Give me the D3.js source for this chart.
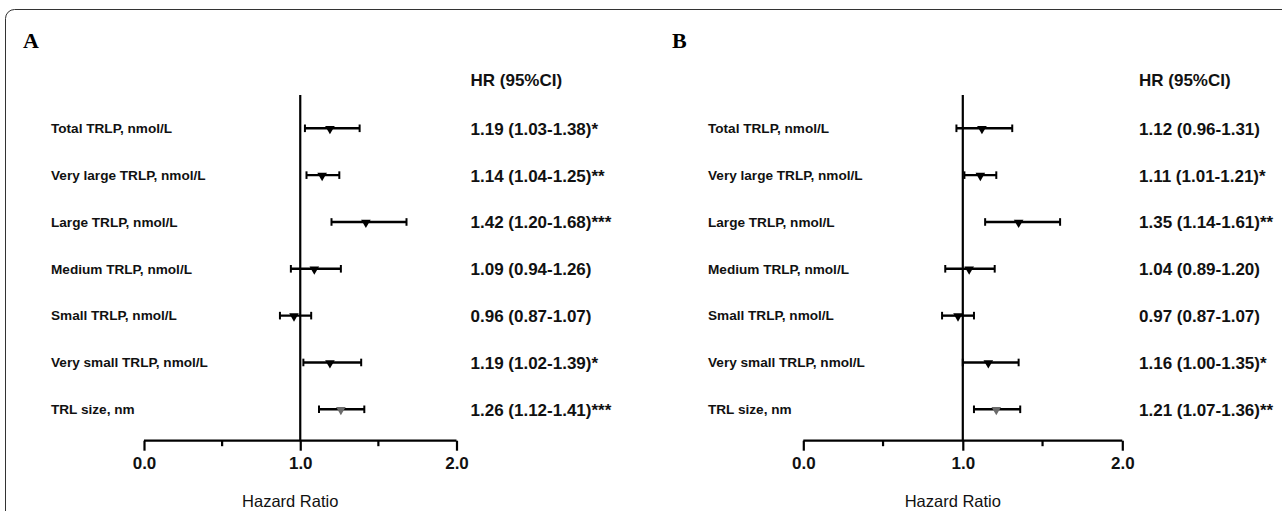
<!DOCTYPE html>
<html>
<head>
<meta charset="utf-8">
<script src="https://cdn.jsdelivr.net/npm/d3@7/dist/d3.min.js"></script>
<style>
  html, body { margin: 0; padding: 0; background: #fff; }
  svg { display: block; }
  text { font-family: Arial, "Liberation Sans", sans-serif; fill: #111; }
</style>
</head>
<body>
<svg id="chart" width="1282" height="511"></svg>
<script>
// Predictors shown in both panels (top to bottom)
const categories = [
  "Total TRLP, nmol/L",
  "Very large TRLP, nmol/L",
  "Large TRLP, nmol/L",
  "Medium TRLP, nmol/L",
  "Small TRLP, nmol/L",
  "Very small TRLP, nmol/L",
  "TRL size, nm"
];

// Panel A: hazard ratios with 95% CI
const hrA   = [1.19, 1.14, 1.42, 1.09, 0.96, 1.19, 1.26];
const lowA  = [1.03, 1.04, 1.20, 0.94, 0.87, 1.02, 1.12];
const highA = [1.38, 1.25, 1.68, 1.26, 1.07, 1.39, 1.41];
const sigA  = ["*", "**", "***", "", "", "*", "***"];

// Panel B: hazard ratios with 95% CI
const hrB   = [1.12, 1.11, 1.35, 1.04, 0.97, 1.16, 1.21];
const lowB  = [0.96, 1.01, 1.14, 0.89, 0.87, 1.00, 1.07];
const highB = [1.31, 1.21, 1.61, 1.20, 1.07, 1.35, 1.36];
const sigB  = ["", "*", "**", "", "", "*", "**"];

// Axis
const axisDomain = [0, 2];
const majorTicks = [0, 1, 2];
const minorTicks = [0.5, 1.5];
const tickLabels = ["0.0", "1.0", "2.0"];
const axisTitle = "Hazard Ratio";
const columnHeader = "HR (95%CI)";

const svg = d3.select("#chart");

// Outer frame with rounded top-left corner
svg.append("rect")
  .attr("x", 5.5).attr("y", 9.5)
  .attr("width", 1400).attr("height", 700)
  .attr("rx", 9).attr("ry", 9)
  .attr("fill", "none")
  .attr("stroke", "#333")
  .attr("stroke-width", 1);

const y = d3.scalePoint().domain(categories).range([128.3, 409.3]);

function drawPanel(cfg) {
  const g = svg.append("g");
  const x = d3.scaleLinear().domain(axisDomain).range(cfg.xRange);
  const axisY = 440.7;
  const rows = categories.map((c, i) => ({
    name: c, hr: cfg.hr[i], lo: cfg.low[i], hi: cfg.high[i], sig: cfg.sig[i],
    last: i === categories.length - 1
  }));

  // Panel letter
  g.append("text")
    .attr("x", cfg.letterX).attr("y", 48)
    .style("font-family", "'Times New Roman', 'Liberation Serif', serif")
    .style("font-weight", "bold")
    .style("font-size", "22px")
    .style("fill", "#000")
    .text(cfg.letter);

  // Row labels
  g.selectAll("text.row").data(rows).join("text")
    .attr("class", "row")
    .attr("x", cfg.labelX)
    .attr("y", d => y(d.name))
    .attr("dy", "0.35em")
    .style("font-weight", "bold")
    .style("font-size", "13.6px")
    .text(d => d.name);

  // Reference line at HR = 1
  g.append("line")
    .attr("x1", x(1)).attr("x2", x(1))
    .attr("y1", 95).attr("y2", axisY)
    .attr("stroke", "#000").attr("stroke-width", 2.2);

  // X axis
  const axis = d3.axisBottom(x)
    .tickValues(majorTicks)
    .tickSize(10)
    .tickFormat((d, i) => tickLabels[i])
    .tickPadding(6);
  const ax = g.append("g").attr("transform", `translate(0,${axisY})`).call(axis);
  ax.select(".domain")
    .attr("d", `M${x(axisDomain[0])},0H${x(axisDomain[1])}`)
    .attr("stroke", "#000").attr("stroke-width", 2.2);
  ax.selectAll(".tick line").attr("stroke", "#000").attr("stroke-width", 2.2);
  ax.selectAll(".tick text")
    .style("font-family", "Arial, 'Liberation Sans', sans-serif")
    .style("font-weight", "bold")
    .style("font-size", "17px")
    .attr("fill", "#111");
  ax.selectAll("line.minor").data(minorTicks).join("line")
    .attr("class", "minor")
    .attr("x1", d => x(d)).attr("x2", d => x(d))
    .attr("y1", 0).attr("y2", 5.5)
    .attr("stroke", "#000").attr("stroke-width", 2.2);

  // Axis title
  g.append("text")
    .attr("x", x(1) - 10).attr("y", 507)
    .attr("text-anchor", "middle")
    .style("font-size", "16.5px")
    .text(axisTitle);

  // CI whiskers
  const bars = g.selectAll("g.ci").data(rows).join("g").attr("class", "ci");
  bars.append("line")
    .attr("x1", d => x(d.lo)).attr("x2", d => x(d.hi))
    .attr("y1", d => y(d.name)).attr("y2", d => y(d.name))
    .attr("stroke", "#000").attr("stroke-width", 2.4);
  bars.selectAll("line.cap").data(d => [d.lo, d.hi].map(v => ({ v, name: d.name }))).join("line")
    .attr("class", "cap")
    .attr("x1", d => x(d.v)).attr("x2", d => x(d.v))
    .attr("y1", d => y(d.name) - 3.8).attr("y2", d => y(d.name) + 3.8)
    .attr("stroke", "#000").attr("stroke-width", 2);

  // Point estimates: downward triangles
  const tri = d3.symbol().type(d3.symbolTriangle).size(40);
  bars.append("path")
    .attr("d", tri)
    .attr("transform", d => `translate(${x(d.hr)},${y(d.name) + 0.5}) rotate(180)`)
    .attr("fill", d => d.last ? "#6b6b6b" : "#000");

  // HR (95% CI) column
  g.append("text")
    .attr("x", cfg.hrX).attr("y", 80.5)
    .attr("dy", "0.35em")
    .style("font-weight", "bold")
    .style("font-size", "17px")
    .text(columnHeader);
  g.selectAll("text.hr").data(rows).join("text")
    .attr("class", "hr")
    .attr("x", cfg.hrX)
    .attr("y", d => y(d.name) + 0.5)
    .attr("dy", "0.35em")
    .style("font-weight", "bold")
    .style("font-size", "17px")
    .text(d => `${d.hr.toFixed(2)} (${d.lo.toFixed(2)}-${d.hi.toFixed(2)})${d.sig}`);
}

drawPanel({
  letter: "A", letterX: 23, labelX: 51, hrX: 470.5,
  xRange: [144, 456.5],
  hr: hrA, low: lowA, high: highA, sig: sigA
});
drawPanel({
  letter: "B", letterX: 672, labelX: 708, hrX: 1139,
  xRange: [803.3, 1122.3],
  hr: hrB, low: lowB, high: highB, sig: sigB
});
</script>
</body>
</html>
